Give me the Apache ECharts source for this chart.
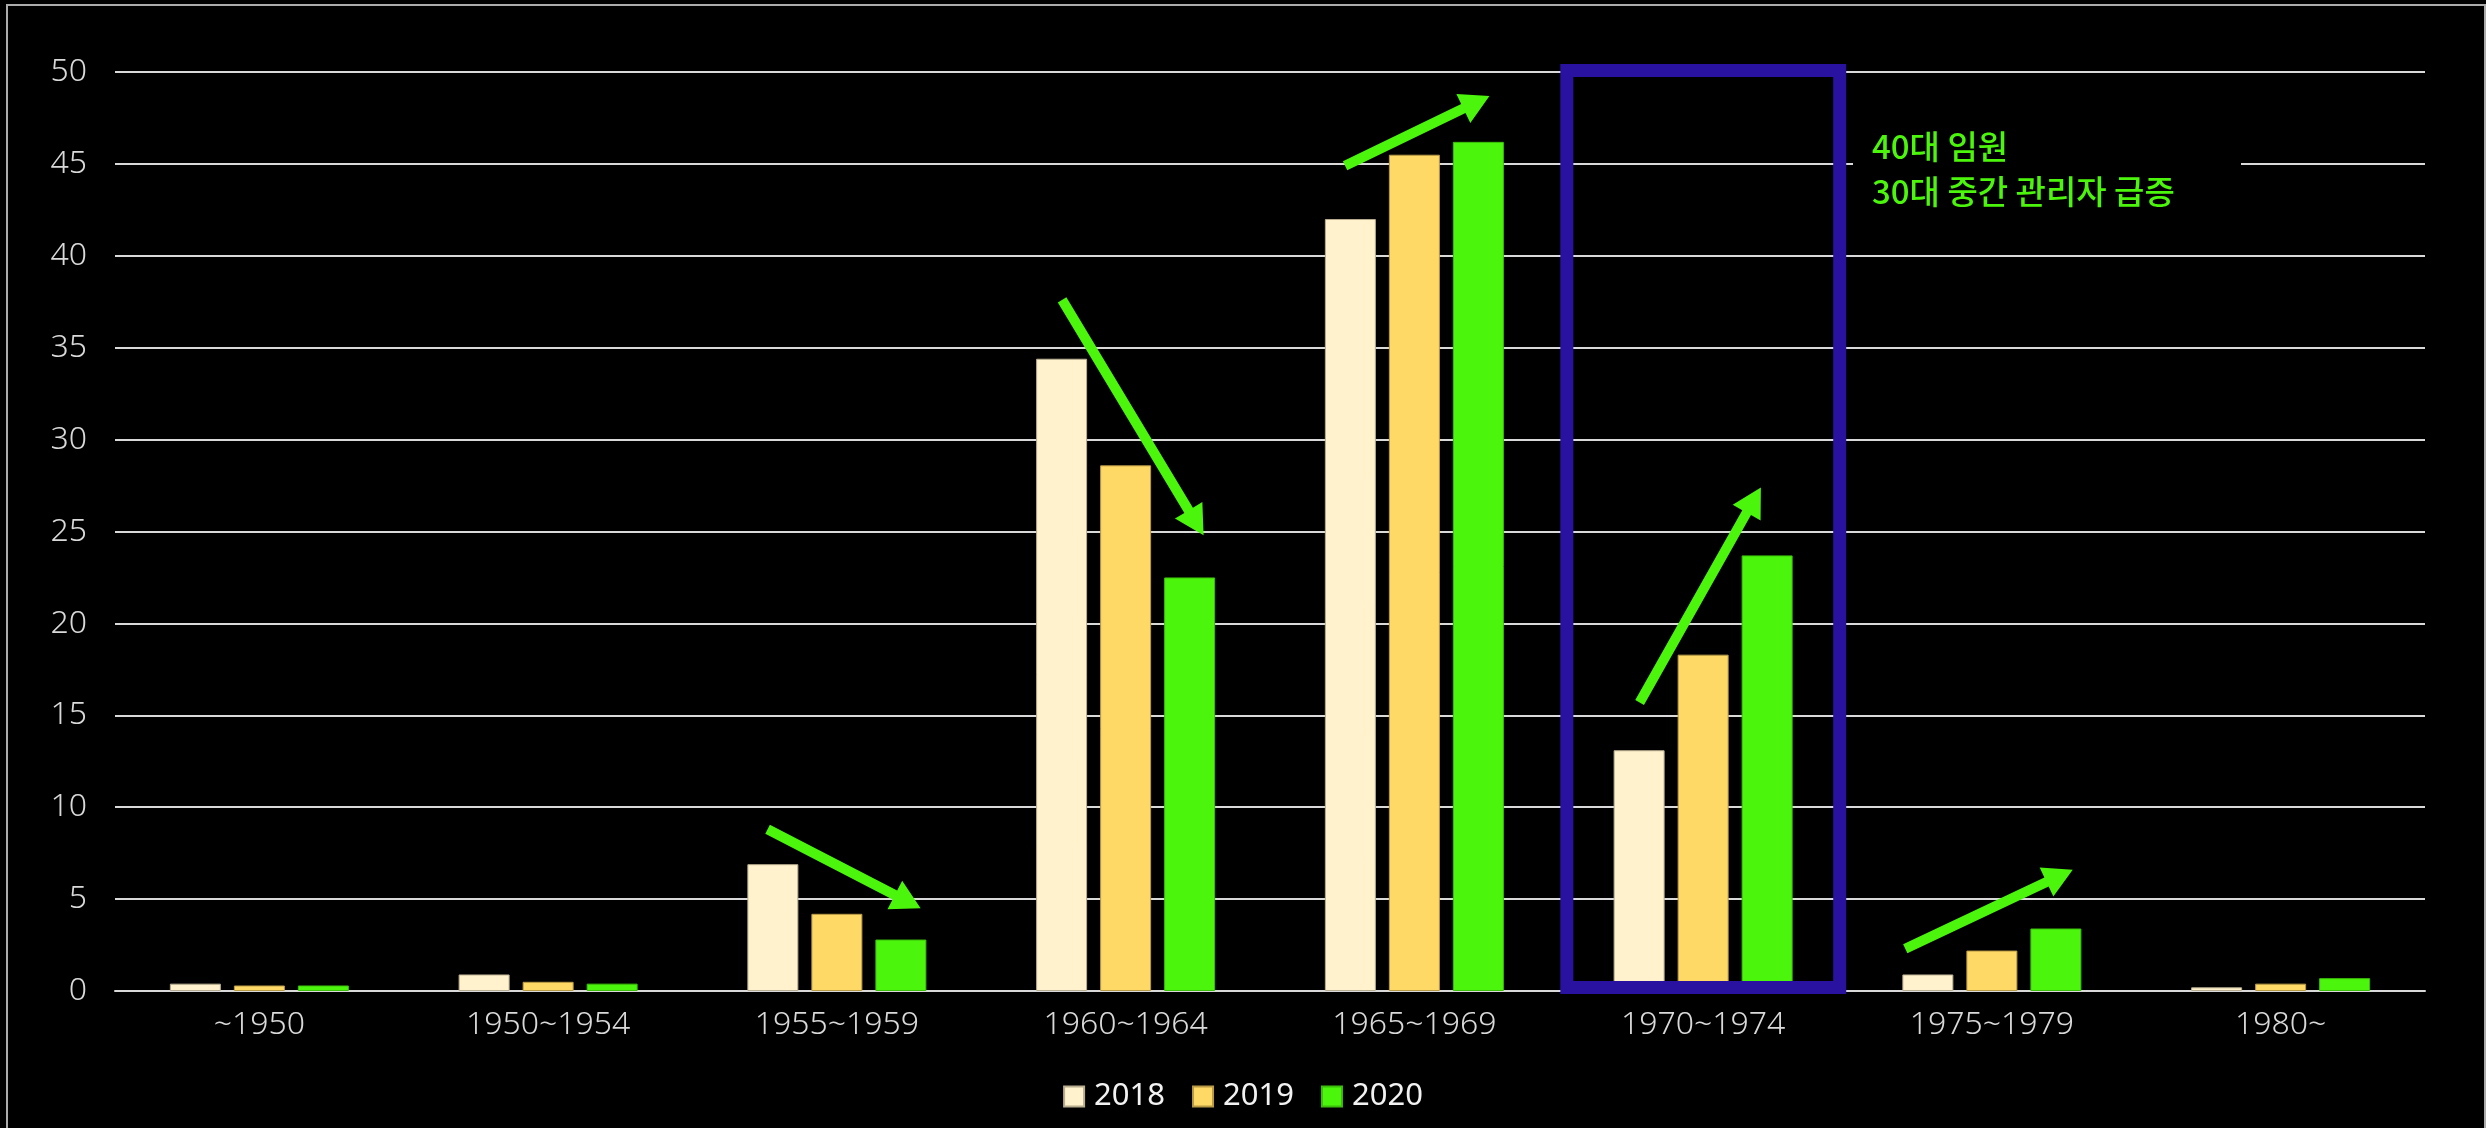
<!DOCTYPE html>
<html>
<head>
<meta charset="utf-8">
<style>
  html, body { margin: 0; padding: 0; background: #000; }
  #chart { width: 2486px; height: 1128px; }
</style>
<script src="https://cdn.jsdelivr.net/npm/echarts@6/dist/echarts.min.js"></script>
</head>
<body>
<div id="chart"></div>
<script>
// Birth-year cohorts of executives, share (%) by year
const categories = ['~1950', '1950~1954', '1955~1959', '1960~1964', '1965~1969', '1970~1974', '1975~1979', '1980~'];
const years = ['2018', '2019', '2020'];
const values2018 = [0.4, 0.9, 6.9, 34.4, 42.0, 13.1, 0.9, 0.2];
const values2019 = [0.3, 0.5, 4.2, 28.6, 45.5, 18.3, 2.2, 0.4];
const values2020 = [0.3, 0.4, 2.8, 22.5, 46.2, 23.7, 3.4, 0.7];

// Trend arrows: [fromCategoryPos, fromValue, toCategoryPos, toValue]
const trendArrows = [
  [2.26, 8.8, 2.79, 4.5],
  [3.28, 37.6, 3.77, 24.8],
  [4.26, 44.9, 4.76, 48.7],
  [5.28, 15.7, 5.70, 27.4],
  [6.20, 2.3, 6.78, 6.6]
];
// Highlight frame around the 1970~1974 cohort: [left, top, right, bottom]
const highlightBox = [[5.028, 50.08, 5.973, 0.19]];
const noteLines = ['40대 임원', '30대 중간 관리자 급증'];

const GREEN = '#4cf50c';
const BLUE = '#2a12a0';
const AXIS_TEXT = '#d9d9d9';
const LIGHT_FONT = "'Noto Sans', 'Open Sans', sans-serif";

const chart = echarts.init(document.getElementById('chart'), null, { renderer: 'canvas' });

function renderArrow(params, api) {
  const p0 = api.coord([api.value(0), api.value(1)]);
  const p1 = api.coord([api.value(2), api.value(3)]);
  const dx = p1[0] - p0[0], dy = p1[1] - p0[1];
  const len = Math.sqrt(dx * dx + dy * dy);
  const ux = dx / len, uy = dy / len;
  const nx = -uy, ny = ux;
  const headLen = 29, headHalf = 16, shaftHalf = 5;
  const bx = p1[0] - ux * headLen, by = p1[1] - uy * headLen;
  const pts = [
    [p0[0] + nx * shaftHalf, p0[1] + ny * shaftHalf],
    [bx + nx * shaftHalf, by + ny * shaftHalf],
    [bx + nx * headHalf, by + ny * headHalf],
    [p1[0], p1[1]],
    [bx - nx * headHalf, by - ny * headHalf],
    [bx - nx * shaftHalf, by - ny * shaftHalf],
    [p0[0] - nx * shaftHalf, p0[1] - ny * shaftHalf]
  ];
  return { type: 'polygon', shape: { points: pts }, style: { fill: GREEN } };
}

function renderBox(params, api) {
  const a = api.coord([api.value(0), api.value(1)]);
  const b = api.coord([api.value(2), api.value(3)]);
  return {
    type: 'rect',
    shape: { x: a[0], y: a[1], width: b[0] - a[0], height: b[1] - a[1] },
    style: { fill: 'none', stroke: BLUE, lineWidth: 13 }
  };
}

const barBase = {
  type: 'bar',
  barWidth: 51,
  barGap: '25.5%',
  xAxisIndex: 0,
  yAxisIndex: 0
};

chart.setOption({
  backgroundColor: '#000',
  animation: false,
  grid: { left: 115, right: 61, top: 72, bottom: 137, containLabel: false },
  legend: {
    data: years,
    top: 1076,
    left: 'center',
    icon: 'rect',
    itemWidth: 20,
    itemHeight: 20,
    itemGap: 27,
    textStyle: { color: '#f2f2f2', fontSize: 31, fontFamily: "'Noto Sans', sans-serif", padding: [0, 0, 0, 5] }
  },
  xAxis: [
    {
      type: 'category',
      data: categories,
      axisLine: { lineStyle: { color: AXIS_TEXT, width: 2 } },
      axisTick: { show: false },
      axisLabel: { color: AXIS_TEXT, fontSize: 32, fontFamily: LIGHT_FONT, fontWeight: 300, margin: 18 }
    },
    { type: 'value', min: 0, max: 8, show: false }
  ],
  yAxis: {
    type: 'value',
    min: 0,
    max: 50,
    interval: 5,
    axisLine: { show: false },
    axisTick: { show: false },
    axisLabel: { color: AXIS_TEXT, fontSize: 32, fontFamily: LIGHT_FONT, fontWeight: 300, margin: 28 },
    splitLine: { lineStyle: { color: AXIS_TEXT, width: 2 } }
  },
  series: [
    Object.assign({}, barBase, { name: '2018', data: values2018,
      itemStyle: { color: '#fff2cc', borderColor: '#b8ad90', borderWidth: 1 } }),
    Object.assign({}, barBase, { name: '2019', data: values2019,
      itemStyle: { color: '#ffd966', borderColor: '#b89a45', borderWidth: 1 } }),
    Object.assign({}, barBase, { name: '2020', data: values2020,
      itemStyle: { color: GREEN, borderColor: '#3bbf0a', borderWidth: 1 } }),
    {
      type: 'custom', name: 'frame', xAxisIndex: 1, yAxisIndex: 0, z: 5,
      renderItem: renderBox, data: highlightBox, silent: true,
      encode: { x: [0, 2], y: [1, 3] }
    },
    {
      type: 'custom', name: 'trend', xAxisIndex: 1, yAxisIndex: 0, z: 6,
      renderItem: renderArrow, data: trendArrows, silent: true,
      encode: { x: [0, 2], y: [1, 3] }
    }
  ],
  graphic: [
    {
      type: 'rect', z: 100, silent: true,
      shape: { x: 7, y: 5, width: 2478, height: 1140 },
      style: { fill: 'none', stroke: '#ababab', lineWidth: 2 }
    },
    {
      type: 'rect', z: 90, silent: true,
      shape: { x: 1853, y: 120, width: 388, height: 96 },
      style: { fill: '#000' }
    },
    {
      type: 'text', z: 95, silent: true, x: 1872, y: 146,
      style: { text: noteLines[0], fill: GREEN, fontSize: 33, fontWeight: 500,
        fontFamily: "'Noto Sans CJK KR', sans-serif", verticalAlign: 'middle' }
    },
    {
      type: 'text', z: 95, silent: true, x: 1872, y: 191,
      style: { text: noteLines[1], fill: GREEN, fontSize: 33, fontWeight: 500,
        fontFamily: "'Noto Sans CJK KR', sans-serif", verticalAlign: 'middle' }
    }
  ]
});
</script>
</body>
</html>
